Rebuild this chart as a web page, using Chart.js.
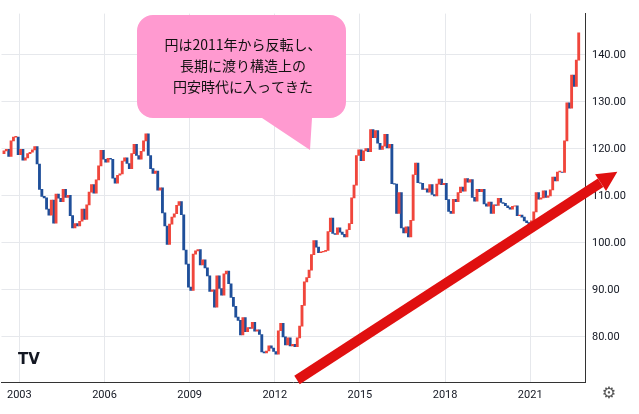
<!DOCTYPE html>
<html>
<head>
<meta charset="utf-8">
<script src="https://cdn.jsdelivr.net/npm/chart.js@4"></script>
<style>
  html, body { margin: 0; padding: 0; background: #fff; }
  #wrap { width: 639px; height: 414px; position: relative; }
</style>
</head>
<body>
<div id="wrap"><canvas id="c"></canvas></div>
<script>
// Monthly USD/JPY closes, starting June 2002 (opening value = previous close)
const firstYear = 2002, firstMonth = 5;   // June (0-based)
const startOpen = 119.0;
const closes = [
  119.6, 119.9, 118.4, 121.7, 122.5, 122.5, 118.8,
  119.9, 117.6, 118.1, 119.0, 119.3, 119.8, 120.5, 116.8, 111.4, 109.9, 109.6, 107.2,
  105.9, 109.1, 104.2, 110.4, 109.5, 108.8, 111.4, 109.7, 110.1, 105.8, 103.2, 104.1,
  103.6, 104.6, 107.2, 105.0, 108.1, 110.8, 112.4, 110.6, 113.4, 116.4, 119.7, 117.8,
  117.2, 118.0, 117.8, 113.8, 112.7, 114.4, 114.7, 117.4, 118.1, 116.9, 115.8, 119.0,
  121.0, 118.6, 117.8, 119.5, 121.7, 123.2, 118.6, 115.8, 114.8, 115.3, 111.2, 111.7,
  106.4, 103.6, 99.7, 104.0, 105.5, 106.2, 108.0, 108.8, 106.0, 98.5, 95.5, 90.6,
  89.9, 97.6, 98.3, 98.6, 95.3, 96.4, 94.7, 93.0, 89.7, 90.0, 86.3, 93.0,
  90.3, 88.9, 93.4, 94.0, 91.3, 88.4, 86.5, 84.2, 83.5, 80.4, 84.1, 81.1,
  82.0, 81.8, 83.1, 81.2, 81.5, 80.5, 76.8, 76.6, 77.0, 78.1, 77.6, 76.9,
  76.3, 81.3, 82.9, 80.0, 78.3, 79.8, 78.1, 78.4, 77.9, 79.8, 82.3, 86.7,
  91.7, 92.6, 94.2, 97.5, 100.5, 99.1, 97.9, 98.1, 98.2, 98.4, 102.4, 105.3,
  102.0, 101.8, 103.2, 102.3, 101.8, 101.3, 102.8, 104.1, 109.6, 112.3, 118.6, 119.8,
  117.5, 119.6, 120.1, 119.4, 124.1, 122.4, 123.9, 121.2, 119.9, 120.6, 123.1, 120.2,
  121.0, 112.6, 112.5, 106.3, 110.7, 103.2, 102.1, 103.4, 101.3, 104.8, 114.5, 117.0,
  112.8, 112.7, 111.4, 111.5, 110.8, 112.4, 110.3, 110.0, 112.5, 113.6, 112.4, 112.7,
  109.2, 106.7, 106.3, 109.3, 108.8, 110.7, 111.9, 111.0, 113.7, 112.9, 113.5, 109.7,
  108.9, 111.4, 110.9, 111.4, 108.3, 107.8, 108.7, 106.3, 108.1, 108.0, 109.5, 108.6,
  108.4, 107.9, 107.5, 107.2, 107.8, 107.9, 105.8, 105.9, 105.5, 104.7, 104.3, 103.3,
  104.7, 106.6, 110.7, 109.3, 109.6, 111.1, 109.7, 110.0, 111.3, 114.0, 113.2, 115.1,
  115.1, 115.0, 121.7, 129.8, 128.7, 135.7, 133.3, 138.9, 144.7
];
const yearTicks = [2003, 2006, 2009, 2012, 2015, 2018, 2021];
const priceTicks = [80, 90, 100, 110, 120, 130, 140];
const noteLines = ['円は2011年から反転し、', '長期に渡り構造上の', '円安時代に入ってきた'];

const UP = '#f0463c', DOWN = '#1f4f9a';
const upBars = [], downBars = [];
closes.forEach((c, i) => {
  const o = i === 0 ? startOpen : closes[i - 1];
  const x = firstYear + (firstMonth + i + 0.5) / 12;
  const lo = Math.min(o, c), hi = Math.max(o, c);
  (c >= o ? upBars : downBars).push({ x: x, y: [lo, hi === lo ? lo + 0.2 : hi] });
});

const overlay = {
  id: 'overlay',
  afterDatasetsDraw(chart) {
    const ctx = chart.ctx;
    ctx.save();
    // red trend arrow
    const x1 = 297, y1 = 380, x2 = 614, y2 = 174;
    ctx.strokeStyle = '#e01010'; ctx.lineWidth = 10; ctx.lineCap = 'butt';
    const ang = Math.atan2(y2 - y1, x2 - x1);
    const bx = x2 - 16 * Math.cos(ang), by = y2 - 16 * Math.sin(ang);
    ctx.beginPath(); ctx.moveTo(x1, y1); ctx.lineTo(bx, by); ctx.stroke();
    ctx.fillStyle = '#e01010';
    ctx.beginPath();
    ctx.moveTo(x2 + 4 * Math.cos(ang), y2 + 4 * Math.sin(ang));
    ctx.lineTo(bx + 10 * Math.cos(ang + Math.PI / 2), by + 10 * Math.sin(ang + Math.PI / 2));
    ctx.lineTo(bx + 10 * Math.cos(ang - Math.PI / 2), by + 10 * Math.sin(ang - Math.PI / 2));
    ctx.closePath(); ctx.fill();
    // pink callout
    ctx.fillStyle = '#ff9ad0';
    const bx0 = 137, by0 = 15, bw = 209, bh = 103, r = 16;
    ctx.beginPath();
    ctx.moveTo(bx0 + r, by0);
    ctx.arcTo(bx0 + bw, by0, bx0 + bw, by0 + bh, r);
    ctx.arcTo(bx0 + bw, by0 + bh, bx0, by0 + bh, r);
    ctx.lineTo(312, by0 + bh);
    ctx.lineTo(310, 150);
    ctx.lineTo(262, by0 + bh);
    ctx.arcTo(bx0, by0 + bh, bx0, by0, r);
    ctx.arcTo(bx0, by0, bx0 + bw, by0, r);
    ctx.closePath(); ctx.fill();
    ctx.fillStyle = '#111'; ctx.font = '14px "Noto Sans CJK JP"';
    ctx.textAlign = 'center'; ctx.textBaseline = 'middle';
    noteLines.forEach((t, i) => ctx.fillText(t, 243, 45 + i * 21));
    // watermark and gear
    ctx.font = 'bold 15px "DejaVu Sans"'; ctx.fillStyle = '#131722';
    ctx.fillText('TV', 29, 360);
    ctx.font = '16px "DejaVu Sans"'; ctx.fillStyle = '#555';
    ctx.fillText('⚙', 609, 394);
    ctx.restore();
  }
};

new Chart(document.getElementById('c'), {
  type: 'bar',
  data: {
    datasets: [
      { data: upBars, backgroundColor: UP, barThickness: 2.2, grouped: false },
      { data: downBars, backgroundColor: DOWN, barThickness: 2.2, grouped: false }
    ]
  },
  options: {
    responsive: true, maintainAspectRatio: false, animation: false,
    layout: { padding: 0 },
    plugins: { legend: { display: false }, tooltip: { enabled: false } },
    scales: {
      x: {
        type: 'linear', min: 2002.37, max: 2022.93, offset: false,
        grid: { color: '#e6e8ec', drawTicks: false, offset: false },
        border: { color: '#333' },
        afterBuildTicks: s => { s.ticks = yearTicks.map(v => ({ value: v })); },
        ticks: { color: '#131722', font: { size: 11, family: 'Roboto' }, padding: 7, maxRotation: 0,
                 callback: v => String(v) },
        afterFit: s => { s.height = 32; }
      },
      y: {
        position: 'right', min: 70.4, max: 148.8,
        grid: { color: '#e6e8ec', drawTicks: false },
        border: { color: '#333' },
        afterBuildTicks: s => { s.ticks = priceTicks.map(v => ({ value: v })); },
        ticks: { color: '#131722', font: { size: 11, family: 'Roboto' }, padding: 7,
                 callback: v => v.toFixed(2) },
        afterFit: s => { s.width = 54; }
      }
    }
  },
  plugins: [overlay]
});
</script>
</body>
</html>
